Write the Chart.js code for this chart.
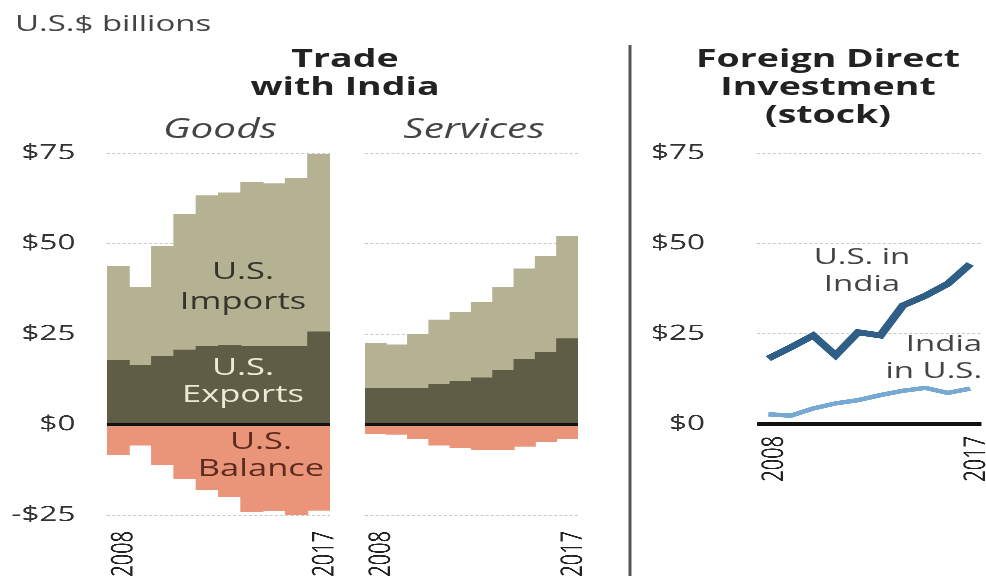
<!DOCTYPE html>
<html>
<head>
<meta charset="utf-8">
<script src="https://cdn.jsdelivr.net/npm/chart.js@4.4.0/dist/chart.umd.min.js"></script>
<style>
  body { margin: 0; background: #fff; font-family: 'Open Sans', sans-serif; overflow: hidden; }
  /* the source graphic is stretched ~1.5x horizontally, so the whole piece is laid out narrow and widened */
  #wrap { position: relative; width: 657.33px; height: 576px; transform: scaleX(1.5); transform-origin: 0 0; }
  .box { position: absolute; }
  .txt { position: absolute; white-space: nowrap; line-height: 1; }
  .unit { left: 10px; top: 11px; font-size: 22px; color: #444; }
  .title { font-weight: 700; font-size: 25px; color: #222; text-align: center; line-height: 28px; transform: translateX(-50%); }
  .sub { font-style: italic; font-size: 27px; color: #444; transform: translateX(-50%); }
  .lbl { font-size: 23px; text-align: center; transform: translateX(-50%); }
  #sep { position: absolute; left: 419px; top: 45px; width: 1.5px; height: 531px; background: #555; }
</style>
</head>
<body>
<div id="wrap">
  <div class="txt unit">U.S.$ billions</div>
  <div class="txt title" style="left:230px; top:43px;">Trade<br>with India</div>
  <div class="txt sub" style="left:146.7px; top:114px;">Goods</div>
  <div class="txt sub" style="left:316px; top:114px;">Services</div>
  <div class="txt title" style="left:552px; top:43px;">Foreign Direct<br>Investment<br>(stock)</div>
  <div id="sep"></div>

  <div class="box" style="left:0; top:140px; width:226px; height:436px;"><canvas id="goodsChart"></canvas></div>
  <div class="box" style="left:226px; top:140px; width:165px; height:436px;"><canvas id="servicesChart"></canvas></div>
  <div class="box" style="left:430px; top:140px; width:227.33px; height:436px;"><canvas id="fdiChart"></canvas></div>

  <div class="txt lbl" style="left:162px; top:255px; line-height:30px; color:#34342a;">U.S.<br>Imports</div>
  <div class="txt lbl" style="left:162px; top:353px; line-height:27px; color:#ecead8;">U.S.<br>Exports</div>
  <div class="txt lbl" style="left:174px; top:427px; line-height:27px; color:#5c2b1f;">U.S.<br>Balance</div>
  <div class="txt lbl" style="left:574.7px; top:242px; line-height:27px; color:#444; font-size:22px;">U.S. in<br>India</div>
  <div class="txt" style="right:2.6px; top:329px; color:#444; font-size:22px; line-height:27px; text-align:right;">India<br>in U.S.</div>
</div>

<script>
// --- Data (U.S.$ billions) ---
const YEARS = ['2008', '2009', '2010', '2011', '2012', '2013', '2014', '2015', '2016', '2017'];

const GOODS_EXPORTS = [17.7, 16.4, 18.8, 20.6, 21.6, 21.8, 21.5, 21.5, 21.6, 25.6];
const GOODS_IMPORTS = [25.9, 21.5, 30.4, 37.4, 41.6, 42.2, 45.5, 45.0, 46.3, 49.0];
const GOODS_BALANCE = [-8.3, -5.7, -11.0, -14.9, -17.9, -20.0, -24.1, -23.8, -24.9, -23.7];

const SERVICES_EXPORTS = [9.9, 9.9, 9.9, 11.2, 11.9, 12.9, 14.9, 17.9, 20.0, 23.7];
const SERVICES_IMPORTS = [12.6, 12.1, 15.0, 17.7, 19.1, 20.9, 22.9, 25.1, 26.4, 28.2];
const SERVICES_BALANCE = [-2.5, -2.7, -3.9, -5.7, -6.4, -6.9, -6.9, -6.0, -4.8, -3.9];

const FDI_US_IN_INDIA = [18.1, 21.2, 24.5, 19.0, 25.4, 24.5, 32.8, 35.5, 38.8, 44.3];
const FDI_INDIA_IN_US = [2.7, 2.3, 4.3, 5.7, 6.6, 8.0, 9.2, 10.0, 8.6, 9.8];

const Y_TICKS_TRADE = [-25, 0, 25, 50, 75];
const Y_TICKS_FDI = [0, 25, 50, 75];

// --- Colours ---
const IMPORTS_COLOR = '#b4b293';
const EXPORTS_COLOR = '#5f5d45';
const BALANCE_COLOR = '#ea9579';
const US_IN_INDIA_COLOR = '#2f5f87';
const INDIA_IN_US_COLOR = '#77a9d2';
const GRID_COLOR = '#c8c8c8';

const TICK_FONT = { family: 'Open Sans', size: 21 };
const YEAR_FONT = { family: 'Open Sans', size: 20 };

// black zero line drawn over the marks
const zeroLine = {
    id: 'zeroLine',
    afterDatasetsDraw(chart) {
        const y = chart.scales.y.getPixelForValue(0);
        const { left, right } = chart.chartArea;
        const ctx = chart.ctx;
        ctx.save();
        ctx.strokeStyle = '#111';
        ctx.lineWidth = 3.5;
        ctx.beginPath();
        ctx.moveTo(left, y);
        ctx.lineTo(right, y);
        ctx.stroke();
        ctx.restore();
    }
};

function dollar(v) {
    return v < 0 ? '-$' + (-v) : '$' + v;
}

function yearTick(val, i) {
    return (i === 0 || i === YEARS.length - 1) ? YEARS[i] : '';
}

// fixed axis sizes so the panels line up with each other
function fixX(height) {
    return (s) => { s.height = height; s.paddingLeft = 0; s.paddingRight = 0; };
}
function fixY(width) {
    return (s) => { s.width = width; s.paddingTop = 0; s.paddingBottom = 0; };
}

function gridOpts() {
    return {
        drawTicks: false,
        color: (c) => c.tick && c.tick.value === 0 ? 'rgba(0,0,0,0)' : GRID_COLOR,
        lineWidth: 1
    };
}

function tradeOptions(showTicks, axisWidth, rightPad) {
    return {
        responsive: true,
        maintainAspectRatio: false,
        animation: false,
        devicePixelRatio: 3,
        layout: { padding: { top: 13, right: rightPad, left: 0, bottom: 0 } },
        plugins: { legend: { display: false }, tooltip: { enabled: false } },
        scales: {
            x: {
                stacked: true,
                offset: true,
                grid: { display: false },
                border: { display: false },
                ticks: {
                    autoSkip: false, maxRotation: 90, minRotation: 90, padding: 8, labelOffset: 4,
                    color: '#222', font: YEAR_FONT, callback: yearTick
                },
                afterFit: fixX(61)
            },
            y: {
                stacked: true,
                min: -25, max: 75,
                afterBuildTicks: (s) => { s.ticks = Y_TICKS_TRADE.map(v => ({ value: v })); },
                grid: gridOpts(),
                border: { display: false, dash: [2, 1.5] },
                ticks: { display: showTicks, padding: 21, color: '#333', font: TICK_FONT, callback: dollar },
                afterFit: fixY(axisWidth)
            }
        }
    };
}

function tradeData(exportsArr, importsArr, balanceArr) {
    const common = { barPercentage: 1, categoryPercentage: 1, borderWidth: 0 };
    return {
        labels: YEARS,
        datasets: [
            { label: 'U.S. Exports', data: exportsArr, backgroundColor: EXPORTS_COLOR, ...common },
            { label: 'U.S. Imports', data: importsArr, backgroundColor: IMPORTS_COLOR, ...common },
            { label: 'U.S. Balance', data: balanceArr, backgroundColor: BALANCE_COLOR, ...common }
        ]
    };
}

new Chart(document.getElementById('goodsChart'), {
    type: 'bar',
    data: tradeData(GOODS_EXPORTS, GOODS_IMPORTS, GOODS_BALANCE),
    options: tradeOptions(true, 71.3, 6),
    plugins: [zeroLine]
});

new Chart(document.getElementById('servicesChart'), {
    type: 'bar',
    data: tradeData(SERVICES_EXPORTS, SERVICES_IMPORTS, SERVICES_BALANCE),
    options: tradeOptions(false, 17.3, 5.7),
    plugins: [zeroLine]
});

new Chart(document.getElementById('fdiChart'), {
    type: 'line',
    data: {
        labels: YEARS,
        datasets: [
            { label: 'U.S. in India', data: FDI_US_IN_INDIA, borderColor: US_IN_INDIA_COLOR, borderWidth: 6, pointRadius: 0, tension: 0, borderJoinStyle: 'miter' },
            { label: 'India in U.S.', data: FDI_INDIA_IN_US, borderColor: INDIA_IN_US_COLOR, borderWidth: 4.5, pointRadius: 0, tension: 0 }
        ]
    },
    options: {
        responsive: true,
        maintainAspectRatio: false,
        animation: false,
        devicePixelRatio: 3,
        layout: { padding: { top: 13, right: 2, left: 0, bottom: 0 } },
        plugins: { legend: { display: false }, tooltip: { enabled: false } },
        scales: {
            x: {
                offset: true,
                grid: { display: false },
                border: { display: false },
                ticks: {
                    autoSkip: false, maxRotation: 90, minRotation: 90, padding: 4, labelOffset: 4,
                    color: '#222', font: YEAR_FONT, callback: yearTick
                },
                afterFit: fixX(152)
            },
            y: {
                min: 0, max: 75,
                afterBuildTicks: (s) => { s.ticks = Y_TICKS_FDI.map(v => ({ value: v })); },
                ticks: { padding: 34.7, color: '#333', font: TICK_FONT, callback: dollar },
                grid: gridOpts(),
                border: { display: false, dash: [2, 1.5] },
                afterFit: fixY(74.7)
            }
        }
    },
    plugins: [zeroLine]
});
</script>
</body>
</html>
